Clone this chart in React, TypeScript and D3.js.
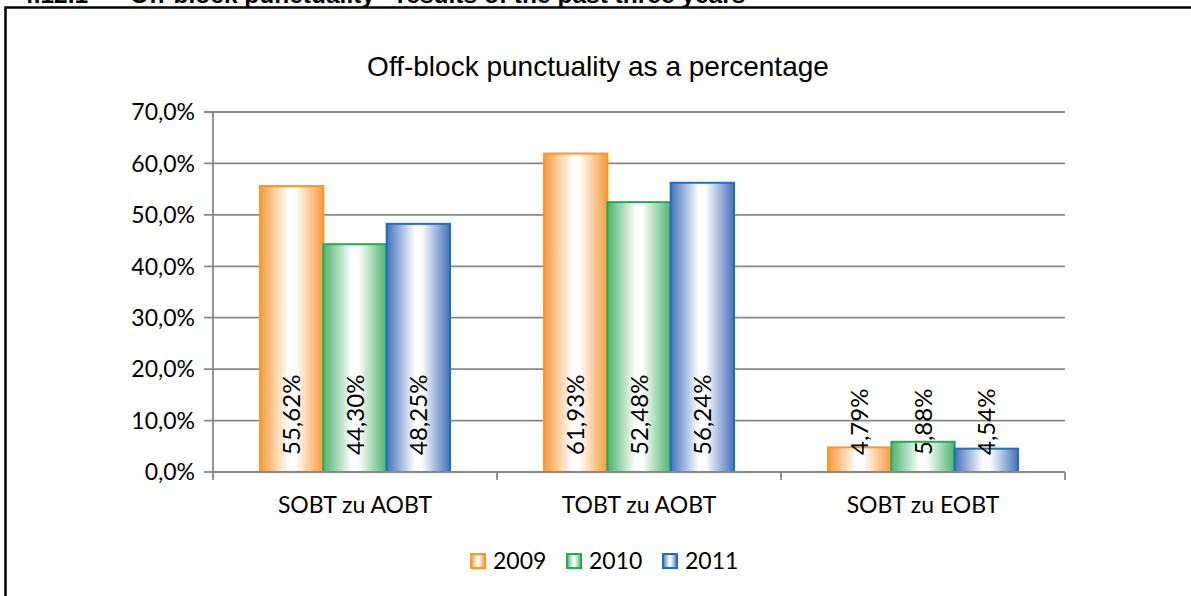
import React from "react";
import * as d3 from "d3";

const categories = ["SOBT zu AOBT", "TOBT zu AOBT", "SOBT zu EOBT"];
const years = ["2009", "2010", "2011"];
const values2009 = [55.62, 61.93, 4.79];
const values2010 = [44.3, 52.48, 5.88];
const values2011 = [48.25, 56.24, 4.54];
const yTicks = [0, 10, 20, 30, 40, 50, 60, 70];

const seriesValues = [values2009, values2010, values2011];
const strokeColors = ["#FF9A1A", "#1EAE55", "#1F6FC0"];
const edgeColors = ["#FA9A3C", "#4DB36E", "#4571BD"];

const W = 1191;
const H = 596;
const left = 213;
const right = 1065;
const top = 112;
const bottom = 472;

const fmt = (v: number, d: number) => v.toFixed(d).replace(".", ",") + "%";

const bodyFont = "Lato, Open Sans, sans-serif";
const arial = "Liberation Sans, Arial, sans-serif";

export default function App() {
  const x = d3.scaleBand().domain(categories).range([left, right]);
  const xInner = d3
    .scaleBand()
    .domain(years)
    .range([47, x.bandwidth() - 47]);
  const y = d3.scaleLinear().domain([0, 70]).range([bottom, top]);

  const gridColor = "#878787";

  return (
    <svg
      width={W}
      height={H}
      style={{ position: "absolute", left: 0, top: 0, background: "#fff" }}
    >
      <defs>
        {years.map((yr, i) => (
          <linearGradient key={yr} id={"grad" + i} x1="0" y1="0" x2="1" y2="0">
            <stop offset="0%" stopColor={edgeColors[i]} />
            <stop offset="45%" stopColor="#ffffff" />
            <stop offset="55%" stopColor="#ffffff" />
            <stop offset="100%" stopColor={edgeColors[i]} />
          </linearGradient>
        ))}
      </defs>

      {/* section heading, cut off at the top edge */}
      <text x={20} y={3} fontFamily={arial} fontWeight="bold" fontSize={24.5}>
        4.12.1
      </text>
      <text x={130} y={3} fontFamily={arial} fontWeight="bold" fontSize={24.5}>
        Off-block punctuality - results of the past three years
      </text>

      {/* outer frame */}
      <rect
        x={5.5}
        y={7.5}
        width={W + 20}
        height={H + 20}
        fill="none"
        stroke="#000"
        strokeWidth={2.5}
      />

      <text
        x={598}
        y={76}
        textAnchor="middle"
        fontFamily={arial}
        fontSize={28}
        fill="#000"
      >
        Off-block punctuality as a percentage
      </text>

      {/* gridlines + y ticks */}
      {yTicks.map((t) => (
        <g key={t}>
          <line
            x1={left - 9}
            x2={t === 0 ? left : right}
            y1={y(t)}
            y2={y(t)}
            stroke={gridColor}
            strokeWidth={1.8}
          />
          <text
            x={195}
            y={y(t)}
            dy="0.36em"
            textAnchor="end"
            fontFamily={bodyFont}
            fontSize={23}
            fill="#000"
          >
            {fmt(t, 1)}
          </text>
        </g>
      ))}
      <line x1={left} x2={left} y1={top} y2={bottom} stroke={gridColor} strokeWidth={1.8} />

      {/* bars */}
      {categories.map((c, ci) => (
        <g key={c} transform={`translate(${x(c)},0)`}>
          {years.map((yr, si) => {
            const v = seriesValues[si][ci];
            const bx = xInner(yr) as number;
            const bw = xInner.bandwidth();
            return (
              <rect
                key={yr}
                x={bx}
                y={y(v)}
                width={bw}
                height={bottom - y(v)}
                fill={`url(#grad${si})`}
                stroke={strokeColors[si]}
                strokeWidth={2}
              />
            );
          })}
        </g>
      ))}

      {/* x axis */}
      <line x1={left} x2={right} y1={bottom} y2={bottom} stroke={gridColor} strokeWidth={1.8} />
      {[...categories.map((c) => x(c) as number), right].map((tx, i) => (
        <line key={i} x1={tx} x2={tx} y1={bottom} y2={bottom + 8} stroke={gridColor} strokeWidth={1.8} />
      ))}

      {/* data labels */}
      {categories.map((c, ci) =>
        years.map((yr, si) => {
          const v = seriesValues[si][ci];
          const cx = (x(c) as number) + (xInner(yr) as number) + xInner.bandwidth() / 2;
          const ly = bottom - 17;
          return (
            <text
              key={c + yr}
              transform={`translate(${cx},${ly}) rotate(-90)`}
              dy="0.36em"
              fontFamily={bodyFont}
              fontSize={24}
              fill="#000"
            >
              {fmt(v, 2)}
            </text>
          );
        })
      )}

      {/* category labels */}
      {categories.map((c) => (
        <text
          key={c}
          x={(x(c) as number) + x.bandwidth() / 2}
          y={513}
          textAnchor="middle"
          fontFamily={bodyFont}
          fontSize={23}
          fill="#000"
        >
          {c}
        </text>
      ))}

      {/* legend */}
      {years.map((yr, i) => {
        const lx = 471 + i * 96;
        return (
          <g key={yr}>
            <rect
              x={lx}
              y={554}
              width={14}
              height={14}
              fill={`url(#grad${i})`}
              stroke={strokeColors[i]}
              strokeWidth={2}
            />
            <text x={lx + 22} y={569} fontFamily={bodyFont} fontSize={23} fill="#000">
              {yr}
            </text>
          </g>
        );
      })}
    </svg>
  );
}
